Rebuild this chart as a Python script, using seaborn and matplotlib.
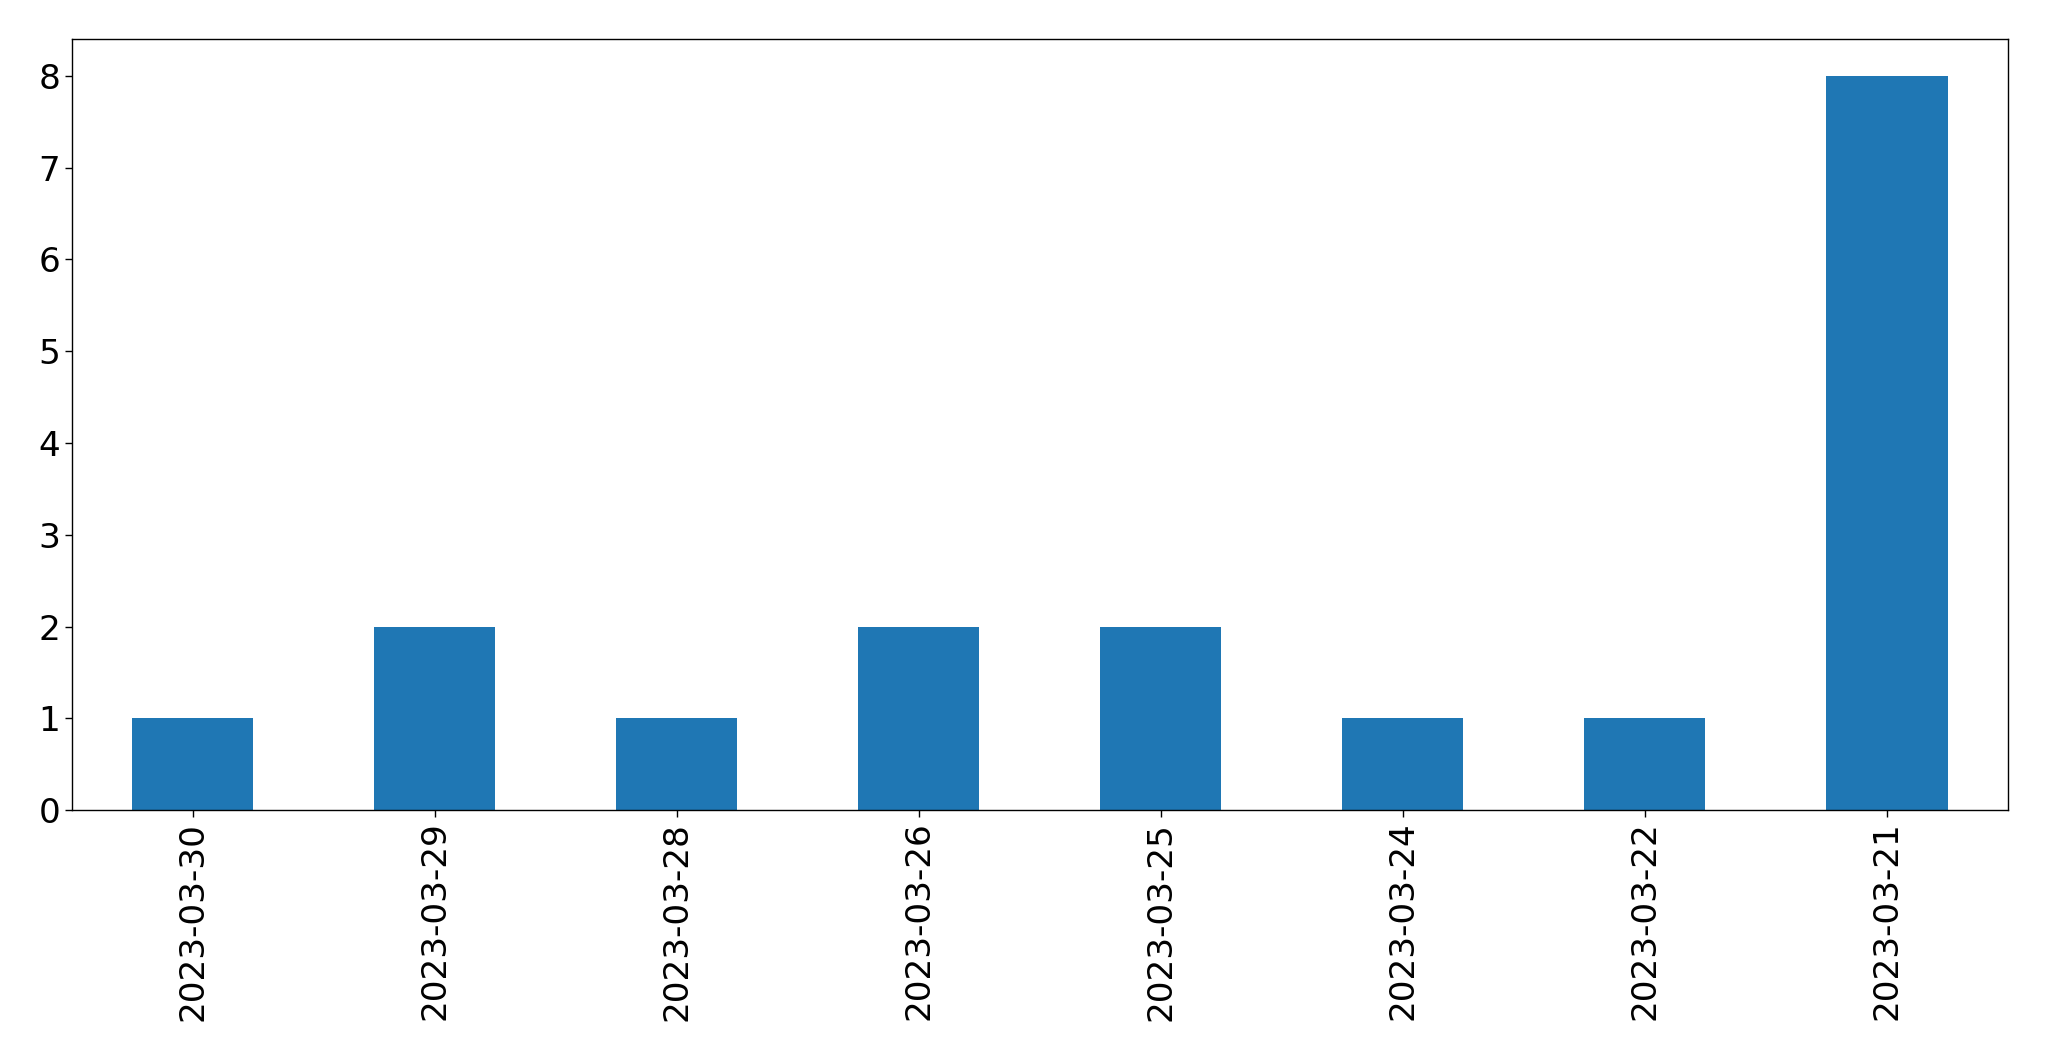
import matplotlib
matplotlib.use("Agg")
import matplotlib.pyplot as plt
import seaborn as sns
import pandas as pd

dates = ["2023-03-30", "2023-03-29", "2023-03-28", "2023-03-26",
         "2023-03-25", "2023-03-24", "2023-03-22", "2023-03-21"]
counts = [1, 2, 1, 2, 2, 1, 1, 8]

df = pd.DataFrame({"date": dates, "count": counts})

sns.set_style("ticks")
plt.rcParams["font.family"] = ["DejaVu Sans"]

fig = plt.figure(figsize=(20.49, 10.61), dpi=100)
ax = fig.add_axes([0.035, 0.2365, 0.945, 0.7265])
sns.barplot(data=df, x="date", y="count", color="#1f77b4", saturation=1,
            width=0.5, ax=ax, order=dates, linewidth=0)
ax.set_xlim(-0.5, len(dates) - 0.5)
ax.set_ylim(0, 8.4)
ax.set_xlabel("")
ax.set_ylabel("")
ax.tick_params(axis="both", labelsize=24.7, length=4.9, width=1,
               color="black", labelcolor="black")
ax.tick_params(axis="x", labelrotation=90)
for s in ax.spines.values():
    s.set_visible(True)
    s.set_color("black")
    s.set_linewidth(1)
fig.savefig("out.png", dpi=100)
